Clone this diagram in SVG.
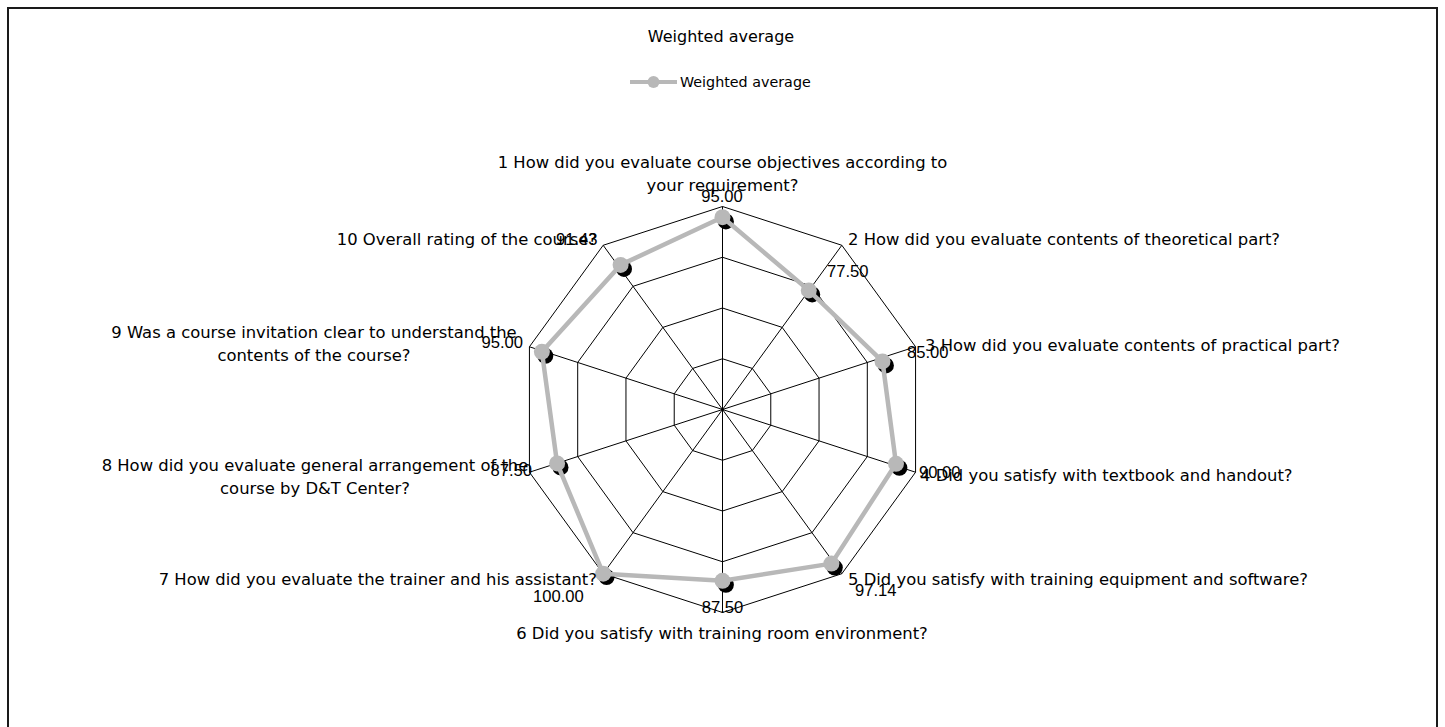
<svg xmlns="http://www.w3.org/2000/svg" width="1445" height="727" viewBox="0 0 1445 727">
  <style>
    .frame { fill: #ffffff; stroke: #1a1a1a; stroke-width: 2; }
    .grid { fill: none; stroke: #000000; stroke-width: 1; }
    .title { font-family: "DejaVu Sans", sans-serif; font-size: 16px; fill: #000000; }
    .legend { font-family: "DejaVu Sans", sans-serif; font-size: 14.3px; fill: #000000; }
    .cat { font-family: "DejaVu Sans", sans-serif; font-size: 16.4px; fill: #000000; }
    .val { font-family: "Liberation Sans", Arial, sans-serif; font-size: 16.6px; fill: #000000; }
    .series { fill: none; stroke: #b8b8b8; stroke-width: 4.5; stroke-linejoin: round; }
    .marker { fill: #b8b8b8; }
    .shadow { fill: #000000; }
  </style>
  <defs>
    <circle id="dot" r="8"/>
  </defs>

  <!-- chart area -->
  <rect class="frame" x="8" y="8" width="1429" height="730"/>

  <!-- title and legend -->
  <g id="title">
    <text class="title" x="721" y="42" text-anchor="middle">Weighted average</text>
  </g>
  <g id="legend">
    <line x1="630" y1="82" x2="677" y2="82" stroke="#b8b8b8" stroke-width="4"/>
    <circle cx="653.5" cy="82" r="6" fill="#b8b8b8"/>
    <text class="legend" x="680" y="87">Weighted average</text>
  </g>

  <!-- radar grid: centre (722.5, 409.5), outer radius 203, scale 20..100 -->
  <g id="grid">
    <polygon class="grid" points="722.5,358.75 752.33,368.44 770.77,393.82 770.77,425.18 752.33,450.56 722.5,460.25 692.67,450.56 674.23,425.18 674.23,393.82 692.67,368.44"/>
    <polygon class="grid" points="722.5,308 782.16,327.39 819.04,378.14 819.04,440.86 782.16,491.61 722.5,511 662.84,491.61 625.96,440.86 625.96,378.14 662.84,327.39"/>
    <polygon class="grid" points="722.5,257.25 811.99,286.33 867.31,362.45 867.31,456.55 811.99,532.67 722.5,561.75 633.01,532.67 577.69,456.55 577.69,362.45 633.01,286.33"/>
    <polygon class="grid" points="722.5,206.5 841.82,245.27 915.57,346.77 915.57,472.23 841.82,573.73 722.5,612.5 603.18,573.73 529.43,472.23 529.43,346.77 603.18,245.27"/>
    <path class="grid" d="M722.5,409.5 L722.5,206.5 M722.5,409.5 L841.82,245.27 M722.5,409.5 L915.57,346.77 M722.5,409.5 L915.57,472.23 M722.5,409.5 L841.82,573.73 M722.5,409.5 L722.5,612.5 M722.5,409.5 L603.18,573.73 M722.5,409.5 L529.43,472.23 M722.5,409.5 L529.43,346.77 M722.5,409.5 L603.18,245.27"/>
    <circle cx="722.5" cy="409.5" r="1.5" fill="#000000"/>
  </g>

  <!-- data series -->
  <g id="series">
    <g id="shadows" class="shadow">
      <use href="#dot" x="725.9" y="221.4"/>
      <use href="#dot" x="812.2" y="294.4"/>
      <use href="#dot" x="885.9" y="365.4"/>
      <use href="#dot" x="899.4" y="467.8"/>
      <use href="#dot" x="834.8" y="567.6"/>
      <use href="#dot" x="725.9" y="584.8"/>
      <use href="#dot" x="606.6" y="577.1"/>
      <use href="#dot" x="560.5" y="467.4"/>
      <use href="#dot" x="545.3" y="355.8"/>
      <use href="#dot" x="624.0" y="268.9"/>
    </g>
    <polygon class="series" points="722.5,217.2 808.8,290.4 882.5,361.4 896.0,463.8 831.4,563.6 722.5,580.8 603.2,573.7 557.1,463.4 541.9,351.8 620.6,264.9"/>
    <g id="markers" class="marker">
      <use href="#dot" x="722.5" y="217.2"/>
      <use href="#dot" x="808.8" y="290.4"/>
      <use href="#dot" x="882.5" y="361.4"/>
      <use href="#dot" x="896.0" y="463.8"/>
      <use href="#dot" x="831.4" y="563.6"/>
      <use href="#dot" x="722.5" y="580.8"/>
      <use href="#dot" x="603.2" y="573.7"/>
      <use href="#dot" x="557.1" y="463.4"/>
      <use href="#dot" x="541.9" y="351.8"/>
      <use href="#dot" x="620.6" y="264.9"/>
    </g>
  </g>

  <!-- category labels -->
  <g id="axis-1">
    <text class="cat" x="722.5" y="168" text-anchor="middle">1 How did you evaluate course objectives according to</text>
    <text class="cat" x="722.5" y="191" text-anchor="middle">your requirement?</text>
  </g>
  <g id="axis-2">
    <text class="cat" x="848" y="245">2 How did you evaluate contents of theoretical part?</text>
  </g>
  <g id="axis-3">
    <text class="cat" x="925" y="351">3 How did you evaluate contents of practical part?</text>
  </g>
  <g id="axis-4">
    <text class="cat" x="920" y="481">4 Did you satisfy with textbook and handout?</text>
  </g>
  <g id="axis-5">
    <text class="cat" x="848" y="585">5 Did you satisfy with training equipment and software?</text>
  </g>
  <g id="axis-6">
    <text class="cat" x="722" y="639" text-anchor="middle">6 Did you satisfy with training room environment?</text>
  </g>
  <g id="axis-7">
    <text class="cat" x="597" y="585" text-anchor="end">7 How did you evaluate the trainer and his assistant?</text>
  </g>
  <g id="axis-8">
    <text class="cat" x="315" y="471" text-anchor="middle">8 How did you evaluate general arrangement of the</text>
    <text class="cat" x="315" y="494" text-anchor="middle">course by D&amp;T Center?</text>
  </g>
  <g id="axis-9">
    <text class="cat" x="314" y="338" text-anchor="middle">9 Was a course invitation clear to understand the</text>
    <text class="cat" x="314" y="361" text-anchor="middle">contents of the course?</text>
  </g>
  <g id="axis-10">
    <text class="cat" x="597" y="245" text-anchor="end">10 Overall rating of the course?</text>
  </g>

  <!-- value labels -->
  <g id="values">
    <text class="val" x="722" y="202" text-anchor="middle">95.00</text>
    <text class="val" x="827" y="277">77.50</text>
    <text class="val" x="907" y="358">85.00</text>
    <text class="val" x="919" y="478">90.00</text>
    <text class="val" x="855" y="596">97.14</text>
    <text class="val" x="722.5" y="613" text-anchor="middle">87.50</text>
    <text class="val" x="533" y="602">100.00</text>
    <text class="val" x="532" y="476" text-anchor="end">87.50</text>
    <text class="val" x="523" y="348" text-anchor="end">95.00</text>
    <text class="val" x="556" y="245">91.43</text>
  </g>
</svg>
